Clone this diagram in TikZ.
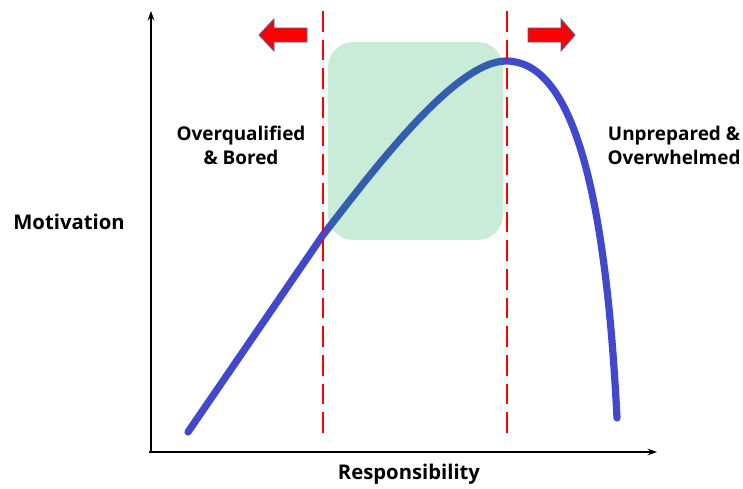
\documentclass[tikz,border=0pt]{standalone}
\usepackage{fontspec}
\setmainfont{Open Sans}
\usetikzlibrary{arrows.meta,positioning}
\definecolor{zonegreen}{RGB}{5,169,78}
\definecolor{curveblue}{RGB}{66,72,204}
\definecolor{arrowedge}{RGB}{84,96,150}

\begin{document}
\begin{tikzpicture}[x=0.75pt,y=-0.75pt,
    caption/.style = {align=center, font=\bfseries\fontsize{14.2}{18}\selectfont, inner sep=0pt},
    axislabel/.style = {caption, font=\bfseries\fontsize{15.2}{18}\selectfont},
    axis/.style = {line width=1.4pt, -{Stealth[length=7pt,width=5pt]}},
    limit/.style = {red, line width=1.5pt, dash pattern=on 15.5pt off 6pt},
    movearrow/.style = {fill=red, draw=arrowedge, line width=0.7pt, line join=miter}]
    \useasboundingbox (0,0) rectangle (743,489);
    % axes
    \coordinate (o) at (151,452);
    \draw [axis] (151,452) -- (151,11);
    \draw [axis] (149,452) -- (657,452);
    % motivation curve
    \coordinate (start) at (188,432);
    \coordinate (low) at (323,235);
    \coordinate (peak) at (506,61);
    \coordinate (stop) at (617,418);
    \draw [curveblue, line width=5.4pt, line cap=round]
        (start) -- (low) .. controls (372,172) and (455,61) .. (peak)
        .. controls (570,61) and (605,180) .. (stop);
    % comfort zone, see-through over the curve
    \fill [zonegreen, opacity=0.22, rounded corners=19pt] (328,42) rectangle (503,240);
    % boundaries
    \draw [limit] (323,11) -- (323,437);
    \draw [limit] (507,11) -- (507,437);
    % arrows
    \draw [movearrow] (259,35) -- (274,19) -- (274,28) -- (307,28)
        -- (307,42) -- (274,42) -- (274,51) -- cycle;
    \draw [movearrow] (575,35) -- (561,19) -- (561,28) -- (528,28)
        -- (528,42) -- (561,42) -- (561,51) -- cycle;
    % labels
    \node (bored) [caption] at (241,145) {Overqualified\\\& Bored};
    \node (over) [caption] at (674,145) {Unprepared \&\\Overwhelmed};
    \node (mot) [axislabel] at (69,222) {Motivation};
    \node (resp) [axislabel] at (409,474) {Responsibility};
\end{tikzpicture}
\end{document}
